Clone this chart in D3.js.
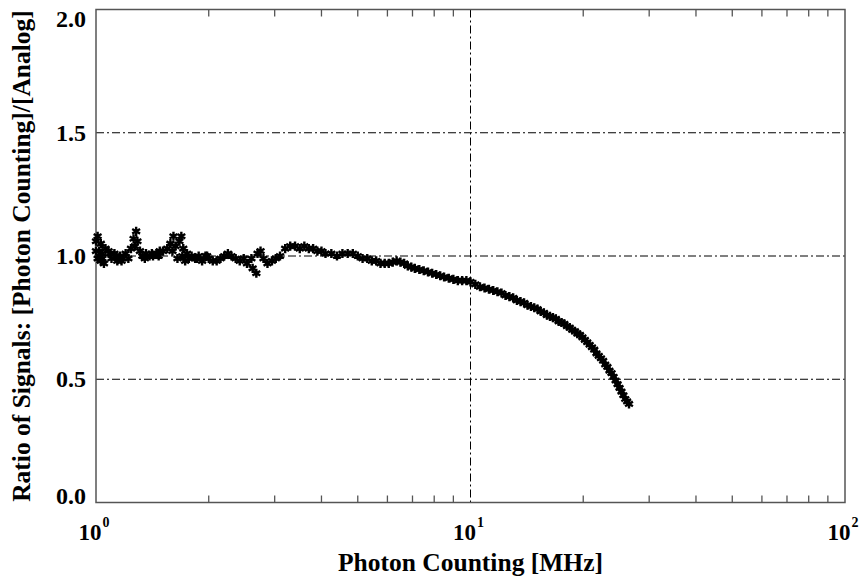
<!DOCTYPE html>
<html>
<head>
<meta charset="utf-8">
<script src="https://cdn.jsdelivr.net/npm/d3@7"></script>
<style>
  body { margin: 0; background: #fff; }
  text { font-family: "Liberation Serif", "Times New Roman", serif; font-weight: bold; }
</style>
</head>
<body>
<div id="chart"></div>
<script>
// photon counting rate [MHz]
var pcRate = [
  1.00, 1.01, 1.01, 1.02, 1.03, 1.03, 1.04, 1.05, 1.06, 1.00, 1.02, 1.04,
  1.08, 1.10, 1.12, 1.14, 1.16, 1.18, 1.20, 1.22, 1.09, 1.13, 1.17,
  1.24, 1.26, 1.28, 1.29, 1.31, 1.27,
  1.33, 1.36, 1.39, 1.42, 1.45, 1.48, 1.51, 1.35, 1.41, 1.47,
  1.55, 1.58, 1.61, 1.63, 1.65, 1.67, 1.69, 1.71, 1.73, 1.75, 1.77, 1.60, 1.70,
  1.80, 1.84, 1.88, 1.92, 1.96, 2.00, 2.05, 1.86, 1.98,
  2.10, 2.15, 2.20, 2.25, 2.30, 2.36, 2.42, 2.48, 2.53,
  2.62, 2.68,
  2.60, 2.70, 2.75, 2.80, 2.87, 2.95, 3.02, 3.10,
  3.20, 3.30, 3.40, 3.50, 3.60, 3.70, 3.80, 3.90, 4.00, 4.10, 4.25, 4.40,
  4.55, 4.70, 4.85, 5.00, 5.15, 5.30, 5.45, 5.60, 5.75, 5.90, 6.05, 6.20, 6.35, 6.50, 6.65, 6.80, 6.95,
  7.10, 7.30, 7.50, 7.70, 7.90, 8.10, 8.30, 8.50, 8.75, 9.00, 9.25, 9.50, 9.75, 10.0,
  10.3, 10.6, 10.9, 11.2, 11.5, 11.8, 12.1, 12.4, 12.7, 13.0, 13.3, 13.6, 13.9, 14.2, 14.5, 14.8,
  15.1, 15.4, 15.7, 16.0, 16.3, 16.6, 16.9, 17.2, 17.5, 17.8, 18.1, 18.4, 18.7, 19.0, 19.3, 19.6, 19.9,
  20.2, 20.5, 20.8, 21.1, 21.4, 21.7, 22.0, 22.3, 22.6, 22.9, 23.2, 23.5, 23.8, 24.1, 24.4, 24.7,
  25.0, 25.3, 25.6, 25.9, 26.2, 26.5
]
// ratio [photon counting]/[analog]
var ratio = [
  1.06, 0.99, 1.08, 1.02, 0.98, 1.05, 1.01, 0.97, 1.03, 1.02, 1.00, 0.99,
  1.02, 0.99, 1.01, 0.98, 1.00, 0.99, 1.01, 0.99, 1.01, 1.00, 0.98,
  1.03, 1.07, 1.10, 1.06, 1.02, 1.04,
  1.00, 1.01, 1.00, 1.00, 1.01, 1.02, 1.02, 0.99, 1.01, 1.00,
  1.03, 1.05, 1.08, 1.04, 0.99, 1.06, 1.08, 1.03, 0.98, 1.01, 0.99, 1.02, 1.00,
  1.00, 0.99, 1.00, 0.98, 1.00, 0.99, 0.98, 0.99, 1.00,
  0.98, 0.99, 1.00, 1.01, 1.00, 0.99, 0.98, 0.99, 0.97,
  0.95, 0.93,
  0.99, 1.01, 1.02, 0.99, 0.97, 0.98, 0.99, 1.00,
  1.03, 1.04, 1.04, 1.03, 1.04, 1.03, 1.03, 1.02, 1.02, 1.01, 1.01, 1.00,
  1.01, 1.01, 1.01, 1.00, 0.99, 0.99, 0.98, 0.98, 0.97, 0.97, 0.97, 0.975, 0.98, 0.975, 0.97, 0.96, 0.955,
  0.95, 0.945, 0.94, 0.935, 0.93, 0.925, 0.92, 0.915, 0.91, 0.905, 0.90, 0.90, 0.90, 0.895,
  0.885, 0.875, 0.87, 0.865, 0.86, 0.855, 0.85, 0.84, 0.835, 0.83, 0.82, 0.815, 0.81, 0.80, 0.795, 0.79,
  0.785, 0.775, 0.77, 0.76, 0.755, 0.75, 0.745, 0.735, 0.73, 0.725, 0.715, 0.71, 0.70, 0.695, 0.685, 0.68, 0.67,
  0.66, 0.65, 0.64, 0.63, 0.62, 0.605, 0.595, 0.585, 0.575, 0.56, 0.55, 0.535, 0.525, 0.51, 0.495, 0.48,
  0.465, 0.45, 0.435, 0.42, 0.41, 0.40
]
var yTicks = [0.0, 0.5, 1.0, 1.5, 2.0]
var xDecades = [1, 10, 100]
var xExponents = ["0", "1", "2"]

var width = 863, height = 581
var margin = {top: 9.5, right: 18, bottom: 78.5, left: 96}

var svg = d3.select("#chart").append("svg")
    .attr("width", width)
    .attr("height", height)

var x = d3.scaleLog().domain([1, 100]).range([margin.left, width - margin.right])
var y = d3.scaleLinear().domain([0, 2]).range([height - margin.bottom, margin.top])

var x0 = x.range()[0], x1 = x.range()[1]
var yb = y.range()[0], yt = y.range()[1]

// grid lines (dash-dot)
var grid = svg.append("g").attr("stroke", "#000").attr("stroke-width", 1)
    .attr("stroke-dasharray", "8,3,2,3")
grid.selectAll("line.h")
    .data(yTicks.filter(d => d > 0 && d < 2))
    .enter().append("line")
    .attr("x1", x0).attr("x2", x1)
    .attr("y1", d => y(d)).attr("y2", d => y(d))
grid.append("line")
    .attr("x1", x(10)).attr("x2", x(10))
    .attr("y1", yt).attr("y2", yb)

// minor ticks on top and bottom
var minors = []
;[1, 10].forEach(dec => { for (var m = 2; m <= 9; m++) minors.push(dec * m) })
var ticks = svg.append("g").attr("stroke", "#555").attr("stroke-width", 1.3)
ticks.selectAll("line.b").data(minors).enter().append("line")
    .attr("x1", d => x(d)).attr("x2", d => x(d))
    .attr("y1", yb).attr("y2", yb - 7)
ticks.selectAll("line.t").data(minors).enter().append("line")
    .attr("x1", d => x(d)).attr("x2", d => x(d))
    .attr("y1", yt).attr("y2", yt + 7)

// frame
svg.append("rect")
    .attr("x", x0).attr("y", yt)
    .attr("width", x1 - x0).attr("height", yb - yt)
    .attr("fill", "none").attr("stroke", "#555").attr("stroke-width", 1.5)

// data markers
var star = d3.symbol().type(d3.symbolAsterisk).size(58)
svg.append("g").selectAll("path")
    .data(pcRate.map((v, i) => [v, ratio[i]]))
    .enter().append("path")
    .attr("d", star)
    .attr("transform", d => "translate(" + x(d[0]) + "," + y(d[1]) + ")")
    .attr("fill", "none")
    .attr("stroke", "#000")
    .attr("stroke-width", 2.4)

// y tick labels
svg.append("g").selectAll("text")
    .data(yTicks).enter().append("text")
    .attr("x", x0 - 10)
    .attr("y", d => y(d) + (d == 0 ? -7 : d == 2 ? 9 : 0))
    .attr("dy", "0.34em")
    .attr("text-anchor", "end")
    .attr("font-size", "24px")
    .text(d => d.toFixed(1))

// x tick labels 10^n
var xl = svg.append("g").selectAll("text")
    .data(xDecades).enter().append("text")
    .attr("x", d => x(d) - 2)
    .attr("y", 540)
    .attr("text-anchor", "middle")
    .attr("font-size", "23px")
xl.append("tspan").text("10")
xl.append("tspan")
    .attr("font-size", "14px")
    .attr("dy", "-13")
    .attr("dx", "1")
    .text((d, i) => xExponents[i])

// axis titles
svg.append("text")
    .attr("x", (x0 + x1) / 2)
    .attr("y", 571)
    .attr("text-anchor", "middle")
    .attr("font-size", "25.5px")
    .text("Photon Counting [MHz]")

svg.append("text")
    .attr("transform", "translate(30," + (yt + yb) / 2 + ") rotate(-90)")
    .attr("text-anchor", "middle")
    .attr("font-size", "25.5px")
    .text("Ratio of Signals: [Photon Counting]/[Analog]")
</script>
</body>
</html>
